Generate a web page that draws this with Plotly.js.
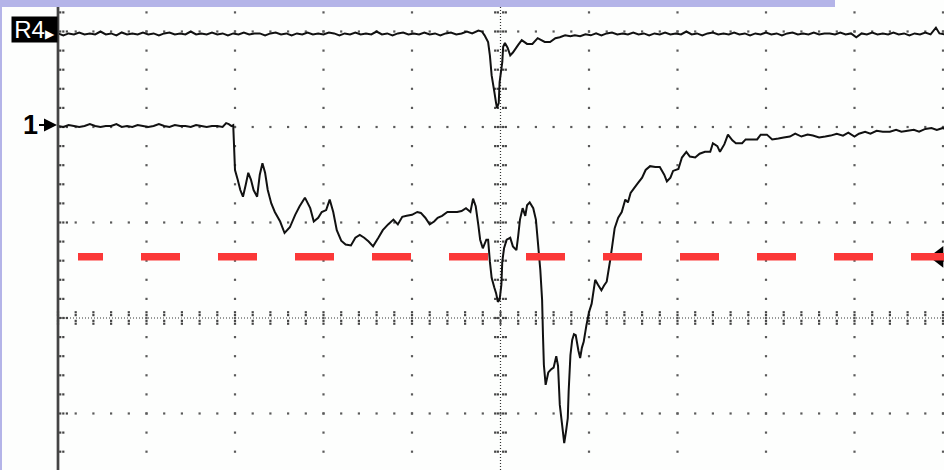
<!DOCTYPE html>
<html><head><meta charset="utf-8">
<script src="https://cdn.plot.ly/plotly-3.0.1.min.js"></script>
<style>html,body{margin:0;padding:0;background:#fff}#chart{width:944px;height:470px}</style>
</head><body><div id="chart"></div>
<script>
// Oscilloscope screen: time and amplitude in screen divisions
const r4Time = [0.00,0.06,0.12,0.18,0.24,0.30,0.36,0.42,0.48,0.54,0.60,0.66,0.72,0.78,0.84,0.90,0.96,1.02,1.08,1.14,1.20,1.26,1.32,1.38,1.44,1.50,1.56,1.62,1.68,1.74,1.80,1.86,1.92,1.98,2.04,2.10,2.16,2.22,2.28,2.34,2.40,2.46,2.52,2.58,2.64,2.70,2.76,2.82,2.88,2.94,3.00,3.06,3.12,3.18,3.24,3.30,3.36,3.42,3.48,3.54,3.60,3.66,3.72,3.78,3.84,3.90,3.96,4.02,4.08,4.14,4.20,4.26,4.32,4.38,4.44,4.50,4.56,4.62,4.68,4.75,4.79,4.82,4.86,4.88,4.90,4.93,4.95,4.96,4.98,4.99,5.02,5.03,5.05,5.08,5.11,5.14,5.20,5.24,5.30,5.36,5.42,5.50,5.56,5.62,5.67,5.73,5.79,5.84,5.90,5.96,6.02,6.08,6.14,6.20,6.26,6.32,6.38,6.44,6.50,6.56,6.62,6.68,6.74,6.80,6.86,6.92,6.98,7.04,7.10,7.16,7.22,7.28,7.34,7.40,7.46,7.52,7.58,7.64,7.70,7.76,7.82,7.88,7.94,8.00,8.06,8.12,8.18,8.24,8.30,8.36,8.42,8.48,8.54,8.60,8.66,8.72,8.78,8.84,8.90,8.96,9.02,9.08,9.14,9.20,9.26,9.32,9.38,9.44,9.50,9.56,9.62,9.68,9.74,9.80,9.86,9.92,9.96,10.02];
const r4Level = [2.98,2.96,2.98,2.97,2.99,2.97,2.98,2.97,3.00,2.97,2.98,2.96,2.99,2.97,2.98,2.97,2.99,2.97,2.98,2.96,2.98,2.99,2.97,2.98,2.97,3.00,2.97,2.98,2.97,2.99,2.97,2.98,2.96,2.98,2.97,2.99,2.97,2.98,2.98,2.96,2.98,2.99,2.97,2.98,2.96,2.98,2.97,2.99,2.97,2.98,2.97,2.99,2.98,2.96,2.98,2.97,2.99,2.97,2.98,2.97,3.00,2.97,2.98,2.96,2.98,2.99,2.97,2.98,2.97,2.99,2.97,2.98,2.96,2.98,2.99,2.97,2.98,3.00,2.98,3.01,3.00,2.96,2.89,2.75,2.54,2.37,2.25,2.20,2.25,2.47,2.68,2.84,2.88,2.83,2.75,2.78,2.86,2.91,2.87,2.87,2.93,2.89,2.89,2.93,2.94,2.96,2.95,2.96,2.95,2.97,2.96,2.98,2.96,2.98,2.99,2.97,2.98,2.97,2.99,2.97,2.98,2.96,2.98,2.97,2.99,2.97,2.98,2.97,3.00,2.97,2.98,2.96,2.98,2.99,2.97,2.98,2.97,2.99,2.97,2.98,2.96,2.98,2.97,2.99,2.97,2.98,2.96,2.98,2.99,2.97,2.98,2.97,2.99,2.97,2.98,2.98,2.97,2.99,2.97,2.98,2.94,2.98,2.97,2.99,2.97,2.98,2.97,2.99,2.97,2.98,2.96,2.98,2.97,2.99,2.97,3.04,2.98,2.97];

const ch1Time = [0.00,0.06,0.12,0.18,0.24,0.30,0.36,0.42,0.48,0.54,0.60,0.66,0.72,0.78,0.84,0.90,0.96,1.02,1.08,1.14,1.20,1.26,1.32,1.38,1.44,1.50,1.56,1.62,1.68,1.74,1.80,1.86,1.90,1.93,1.96,1.98,2.00,2.03,2.06,2.09,2.12,2.15,2.18,2.21,2.25,2.28,2.31,2.34,2.37,2.41,2.45,2.51,2.56,2.62,2.68,2.73,2.79,2.85,2.89,2.94,2.98,3.03,3.07,3.11,3.15,3.20,3.25,3.31,3.36,3.41,3.46,3.51,3.56,3.62,3.67,3.73,3.79,3.84,3.89,3.94,4.00,4.06,4.10,4.15,4.20,4.25,4.29,4.34,4.40,4.45,4.51,4.56,4.61,4.66,4.69,4.72,4.75,4.77,4.80,4.84,4.86,4.88,4.90,4.93,4.95,4.97,4.99,5.01,5.02,5.04,5.07,5.11,5.14,5.18,5.20,5.22,5.25,5.28,5.30,5.33,5.37,5.40,5.42,5.45,5.47,5.48,5.49,5.51,5.54,5.57,5.60,5.63,5.65,5.67,5.69,5.72,5.74,5.76,5.77,5.79,5.81,5.83,5.85,5.88,5.90,5.92,5.94,5.97,6.00,6.03,6.07,6.10,6.14,6.17,6.20,6.24,6.26,6.29,6.33,6.37,6.41,6.44,6.47,6.51,6.55,6.60,6.64,6.69,6.75,6.80,6.85,6.88,6.92,6.95,7.01,7.05,7.10,7.14,7.20,7.25,7.31,7.37,7.40,7.45,7.48,7.53,7.57,7.62,7.66,7.73,7.77,7.84,7.90,7.94,8.01,8.07,8.14,8.20,8.27,8.33,8.40,8.47,8.53,8.60,8.67,8.73,8.80,8.87,8.93,9.00,9.05,9.12,9.18,9.25,9.32,9.40,9.47,9.53,9.60,9.67,9.73,9.80,9.87,9.93,10.00,10.02];
const ch1Level = [2.01,2.00,2.02,2.01,2.00,2.01,2.03,2.01,2.00,2.01,2.01,2.03,2.00,2.01,2.00,2.02,2.01,2.00,2.01,2.03,2.01,2.00,2.02,2.01,2.01,2.00,2.02,2.01,2.00,2.01,2.01,2.00,2.04,2.03,2.01,2.02,1.55,1.45,1.34,1.27,1.39,1.52,1.45,1.34,1.27,1.50,1.62,1.52,1.34,1.20,1.11,1.01,0.89,0.95,1.08,1.17,1.26,1.15,1.01,1.05,1.11,1.13,1.24,1.11,0.92,0.81,0.77,0.76,0.84,0.87,0.84,0.80,0.75,0.84,0.92,0.98,1.03,0.98,1.06,1.07,1.08,1.11,1.10,1.05,0.98,1.01,1.05,1.07,1.11,1.11,1.11,1.12,1.15,1.11,1.25,1.17,0.97,0.82,0.73,0.82,0.82,0.59,0.42,0.32,0.26,0.17,0.19,0.35,0.59,0.73,0.82,0.84,0.75,0.71,0.86,1.03,1.15,1.07,1.18,1.21,1.15,1.03,0.82,0.50,0.19,-0.18,-0.49,-0.70,-0.57,-0.54,-0.52,-0.40,-0.50,-0.91,-1.07,-1.31,-1.19,-1.05,-0.77,-0.39,-0.23,-0.17,-0.18,-0.34,-0.42,-0.31,-0.25,-0.08,0.06,0.15,0.40,0.35,0.29,0.34,0.38,0.61,0.74,0.94,1.05,1.11,1.24,1.21,1.31,1.36,1.41,1.47,1.55,1.59,1.58,1.58,1.50,1.43,1.47,1.54,1.56,1.68,1.74,1.69,1.68,1.72,1.74,1.74,1.83,1.80,1.74,1.82,1.92,1.86,1.83,1.83,1.87,1.87,1.87,1.92,1.92,1.87,1.88,1.89,1.90,1.93,1.90,1.92,1.91,1.89,1.90,1.91,1.93,1.91,1.94,1.90,1.93,1.95,1.93,1.96,1.95,1.95,1.97,1.95,1.96,1.97,1.95,1.98,1.99,1.97,1.99,1.98];

const thresholdTime = [0.226, 10.02];
const thresholdLevel = [0.64, 0.64];
const markerLabels = ['R4', '1'];
const markerLevels = [3.0, 2.02];

// ---- screen decoration (graticule) ----
function seq(a, b, s) { const r = []; for (let i = 0; a + i * s <= b + 1e-9; i++) r.push(+(a + i * s).toFixed(3)); return r; }
const minorY = seq(-1.6, 3.4, 0.2);
const minorX = seq(0, 10, 0.2);
const gx = [], gy = [];
for (let d = 1; d <= 10; d++) { if (d === 5) continue; minorY.forEach(v => { gx.push(d); gy.push(v); }); }
[-1, 1, 2, 3].forEach(v => minorX.forEach(d => { if (d > 0) { gx.push(d); gy.push(v); } }));
const tx = [], ty = [];
minorX.forEach(d => [-0.06, -0.03, 0.03, 0.06].forEach(o => { tx.push(d); ty.push(o); }));
minorY.forEach(v => [-0.06, -0.03, 0.03, 0.06].forEach(o => { tx.push(5 + o); ty.push(v); }));
minorY.forEach(v => { const offs = Math.abs(v - Math.round(v)) < 1e-6 ? [0.025, 0.06, 0.1] : [0.025, 0.06]; offs.forEach(o => { tx.push(o); ty.push(v); }); });

let dash = '25px,38px'; for (let i = 0; i < 14; i++) dash += ',39px,38px';

const traces = [
  { x: gx, y: gy, mode: 'markers', type: 'scatter', hoverinfo: 'skip',
    marker: { symbol: 'square', size: 2.2, color: '#5a5a5a', line: { width: 0 } } },
  { x: tx, y: ty, mode: 'markers', type: 'scatter', hoverinfo: 'skip',
    marker: { symbol: 'square', size: 2.2, color: '#444', line: { width: 0 } } },
  { x: r4Time, y: r4Level, mode: 'lines', type: 'scatter',
    line: { color: '#111', width: 2, simplify: false } },
  { x: ch1Time, y: ch1Level, mode: 'lines', type: 'scatter',
    line: { color: '#111', width: 2, simplify: false } },
  { x: [9.95], y: [thresholdLevel[1]], mode: 'markers', type: 'scatter', cliponaxis: false,
    marker: { symbol: 'triangle-left', size: 19, color: '#000', line: { width: 0 } } },
  { x: thresholdTime, y: thresholdLevel, mode: 'lines', type: 'scatter',
    line: { color: '#fb3838', width: 7.5, dash: dash, simplify: false } }
];

const layout = {
  width: 944, height: 470,
  margin: { l: 0, r: 0, t: 0, b: 0, pad: 0 },
  paper_bgcolor: '#ffffff', plot_bgcolor: '#fdfefd',
  showlegend: false,
  xaxis: { range: [-0.6554, 10.0113], visible: false, fixedrange: true },
  yaxis: { range: [-1.5917, 3.3298], visible: false, fixedrange: true },
  shapes: [
    { type: 'line', xref: 'x', yref: 'paper', x0: 5, x1: 5, y0: 0, y1: 1, layer: 'below',
      line: { color: '#333', width: 1.2, dash: '1px,2px' } },
    { type: 'line', xref: 'x', yref: 'y', x0: 0, x1: 10.02, y0: 0, y1: 0, layer: 'below',
      line: { color: '#333', width: 1.2, dash: '1px,2px' } },
    { type: 'line', xref: 'x', yref: 'paper', x0: 0, x1: 0, y0: 0, y1: 1, layer: 'above',
      line: { color: '#444', width: 2.7 } },
    { type: 'rect', xref: 'paper', yref: 'paper', x0: 0, x1: 835 / 944, y0: 1 - 7 / 470, y1: 1,
      fillcolor: '#b4b4e8', line: { width: 0 }, layer: 'above' },
    { type: 'rect', xref: 'paper', yref: 'paper', x0: 0, x1: 2 / 944, y0: 0, y1: 1,
      fillcolor: '#b4b4e8', line: { width: 0 }, layer: 'above' }
  ],
  annotations: [
    { xref: 'x', yref: 'y', x: 0, y: markerLevels[0], xanchor: 'right', yanchor: 'middle',
      yshift: 2, showarrow: false, bgcolor: '#000', borderpad: 1,
      width: 43, height: 23, align: 'center', valign: 'middle',
      text: markerLabels[0] + '<span style="font-size:12px">▶</span>',
      font: { family: 'Liberation Sans, Arial, sans-serif', size: 24, color: '#fff' } },
    { xref: 'x', yref: 'y', x: 0, y: markerLevels[1], showarrow: true, ax: -28, ay: 0,
      arrowhead: 2, arrowsize: 1.3, arrowwidth: 2, arrowcolor: '#000', standoff: 1,
      text: '<b>' + markerLabels[1] + '</b>',
      font: { family: 'Liberation Sans, Arial, sans-serif', size: 27, color: '#000' } }
  ]
};

Plotly.newPlot('chart', traces, layout, { displayModeBar: false, staticPlot: true });
</script>
</body></html>
